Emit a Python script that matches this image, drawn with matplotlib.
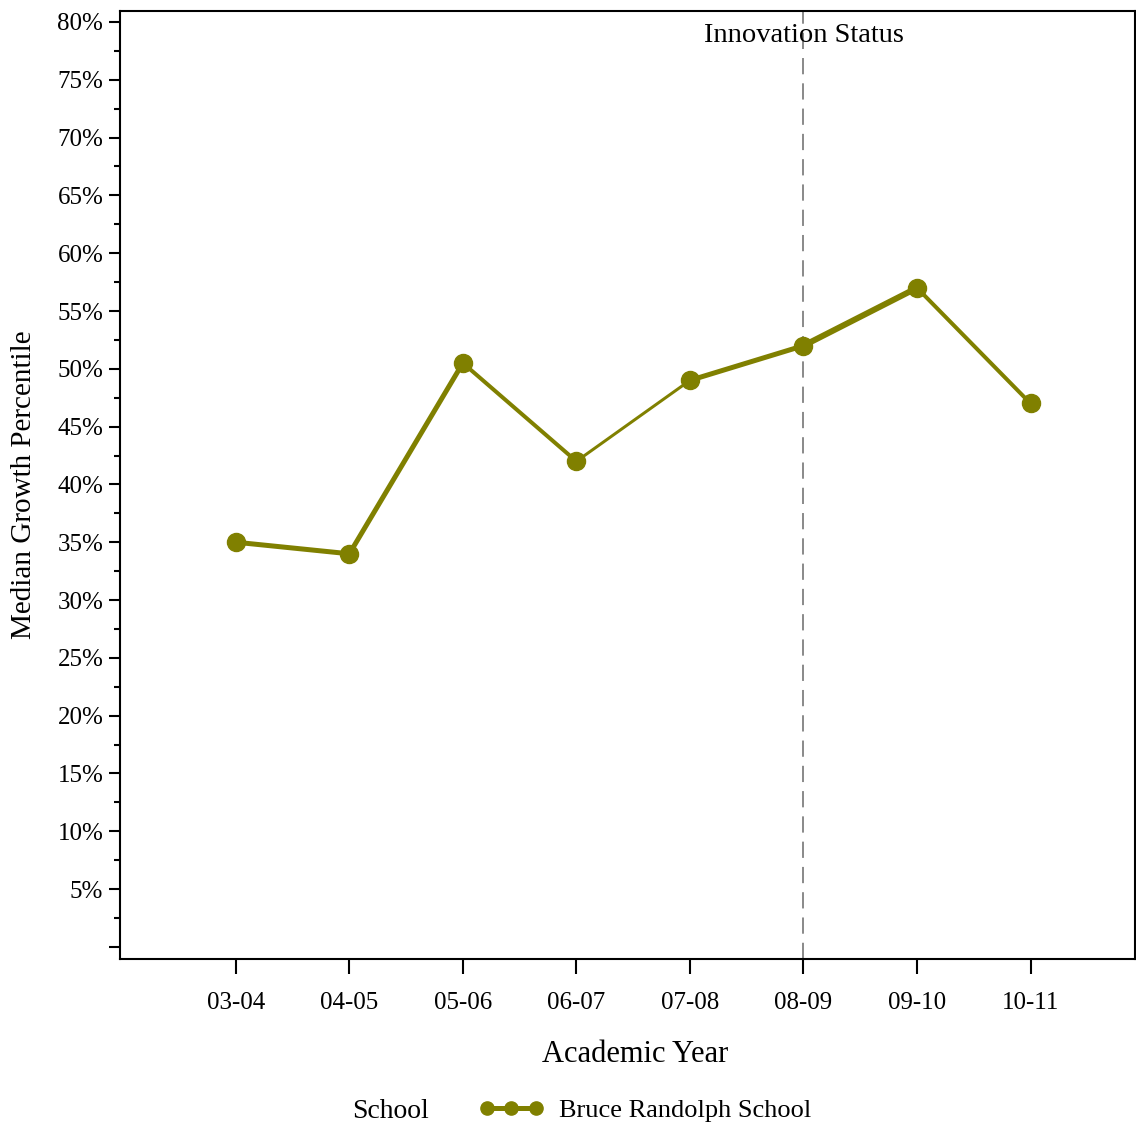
import matplotlib
matplotlib.use("Agg")
import matplotlib.pyplot as plt
from matplotlib.lines import Line2D
from matplotlib.ticker import FixedLocator, FuncFormatter

plt.rcParams['font.family'] = ['Liberation Serif', 'DejaVu Serif']

years = ["03-04", "04-05", "05-06", "06-07", "07-08", "08-09", "09-10", "10-11"]
growth = [35, 34, 50.5, 42, 49, 52, 57, 47]
segment_width_px = [5, 5, 4, 3, 5, 6, 4]
school = "Bruce Randolph School"
event_year = "08-09"
event_label = "Innovation Status"

color = "#808000"
fig = plt.figure(figsize=(11.36, 11.24), dpi=100)
ax = fig.add_axes([120/1136, 1-959/1124, (1135-120)/1136, (959-11)/1124])

x = list(range(len(years)))
px = 0.72
for i in range(len(years)-1):
    ax.plot(x[i:i+2], growth[i:i+2], color=color, lw=segment_width_px[i]*px,
            solid_capstyle='round', zorder=3)
ax.plot(x, growth, 'o', color=color, ms=13, zorder=4, lw=0)

ex = years.index(event_year)
ax.axvline(ex, color="#808080", lw=1.3, dashes=(9, 5), zorder=2)
ax.text(ex, 78.8, event_label, ha='center', va='center', fontsize=20.5)

ax.set_xlim(-1.02, 7.92)
ax.set_ylim(-1.05, 80.95)
ax.set_xticks(x)
ax.set_xticklabels(years, fontsize=18)
major = list(range(0, 81, 5))
ax.yaxis.set_major_locator(FixedLocator(major))
ax.yaxis.set_minor_locator(FixedLocator([m + 2.5 for m in range(0, 80, 5)]))
ax.yaxis.set_major_formatter(FuncFormatter(lambda v, p: "" if v == 0 else f"{int(v)}%"))
ax.tick_params(axis='y', which='major', length=8, width=1.5, labelsize=18, pad=4)
ax.tick_params(axis='y', which='minor', length=4.5, width=1.5)
ax.tick_params(axis='x', which='major', length=11, width=1.5, labelsize=18, pad=13)
for s in ax.spines.values():
    s.set_linewidth(1.5)

ax.set_xlabel("Academic Year", fontsize=22, labelpad=20)
ax.xaxis.set_label_coords((635-120)/1015, -0.085)
ax.set_ylabel("Median Growth Percentile", fontsize=21, labelpad=15)

fig.text(390/1136, 1-1112/1124, "School", ha='center', va='center', fontsize=20)
h = Line2D([], [], color=color, lw=5*px, marker='o', ms=9.5)
leg = fig.legend([h], [school], loc='center left', bbox_to_anchor=(479/1136, 1-1110/1124),
                 frameon=False, fontsize=19, numpoints=3, handlelength=2.45,
                 handletextpad=0.6, borderaxespad=0, borderpad=0)

fig.savefig("out.png", dpi=100)
